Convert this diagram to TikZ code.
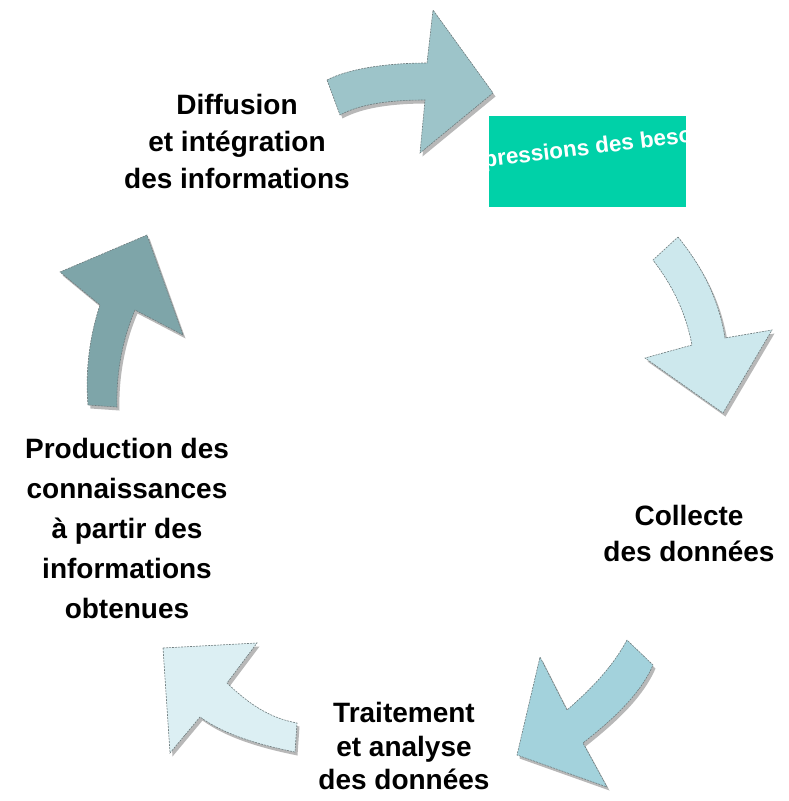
\documentclass[tikz,border=0pt]{standalone}
\usepackage{fontspec}
\setmainfont{Liberation Sans}
\usepackage{tikz}
\usetikzlibrary{positioning}
\definecolor{arrow_top}{HTML}{9DC4C9}
\definecolor{arrow_right}{HTML}{CDE8ED}
\definecolor{arrow_low}{HTML}{A3D2DC}
\definecolor{arrow_pale}{HTML}{DCEFF3}
\definecolor{arrow_dark}{HTML}{7EA5A9}
\definecolor{needs_teal}{HTML}{00D1A8}
\definecolor{edge_gray}{HTML}{6E7C7E}
\tikzstyle{arrow_shadow}=[preaction={fill=black!28, transform canvas={shift={(2.5pt,-3.5pt)}}}]
\tikzstyle{cycle_arrow}=[arrow_shadow, draw=edge_gray, line width=0.6pt, dash pattern=on 2pt off 1pt]
\tikzstyle{step_label}=[align=center, inner sep=0pt, font=\bfseries\fontsize{28}{37}\selectfont]
\tikzstyle{needs_box}=[fill=needs_teal, inner sep=0pt, minimum width=197pt, minimum height=91pt]
\tikzstyle{needs_text}=[text=white, inner sep=0pt, font=\bfseries\fontsize{22.5}{24}\selectfont]

\begin{document}
\begin{tikzpicture}[x=1pt,y=-1pt]
\useasboundingbox (0,0) rectangle (788,801);
% the five steps
\node[step_label] (diffusion) at (237,141) {Diffusion\\et intégration\\des informations};
\node[step_label, font=\bfseries\fontsize{28}{36}\selectfont] (collecte) at (689,533) {Collecte\\des données};
\node[step_label, font=\bfseries\fontsize{28}{33.5}\selectfont] (traitement) at (404,746) {Traitement\\et analyse\\des données};
\node[step_label, font=\bfseries\fontsize{28}{40}\selectfont] (production) at (127,528) {Production des\\connaissances\\à partir des\\informations\\obtenues};
\node[needs_box] (needs) at (587.5,161.5) {};
\begin{scope}
\clip (needs.south west) rectangle (needs.north east);
\node[needs_text, rotate=7] (needs_txt) at (588,149) {pressions des beso};
\end{scope}
% arrows of the cycle
\fill[cycle_arrow, fill=arrow_top] (327,80) .. controls (350,68) and (390,63) .. (427,63) -- (433,10) -- (493,93) -- (420,153) -- (425,100) .. controls (390,100) and (360,104) .. (340,115) -- cycle;
\fill[cycle_arrow, fill=arrow_right] (678,237) .. controls (703,268) and (719,300) .. (725,338) -- (772,330) -- (723,413) -- (645,358) -- (692,345) .. controls (685,310) and (672,285) .. (653,260) -- cycle;
\fill[cycle_arrow, fill=arrow_low] (627,640) .. controls (612,668) and (590,690) .. (567,710) -- (540,657) -- (517,755) -- (607,787) -- (583,743) .. controls (612,720) and (640,695) .. (653,665) -- cycle;
\fill[cycle_arrow, fill=arrow_pale] (163,648) -- (257,643) -- (227,683) .. controls (250,705) and (270,718) .. (297,723) -- (295,752) .. controls (260,745) and (225,735) .. (200,717) -- (170,753) -- cycle;
\fill[cycle_arrow, fill=arrow_dark] (88,405) .. controls (85,370) and (90,335) .. (100,305) -- (60,272) -- (147,235) -- (183,335) -- (135,310) .. controls (122,340) and (116,375) .. (117,407) -- cycle;
\end{tikzpicture}
\end{document}
